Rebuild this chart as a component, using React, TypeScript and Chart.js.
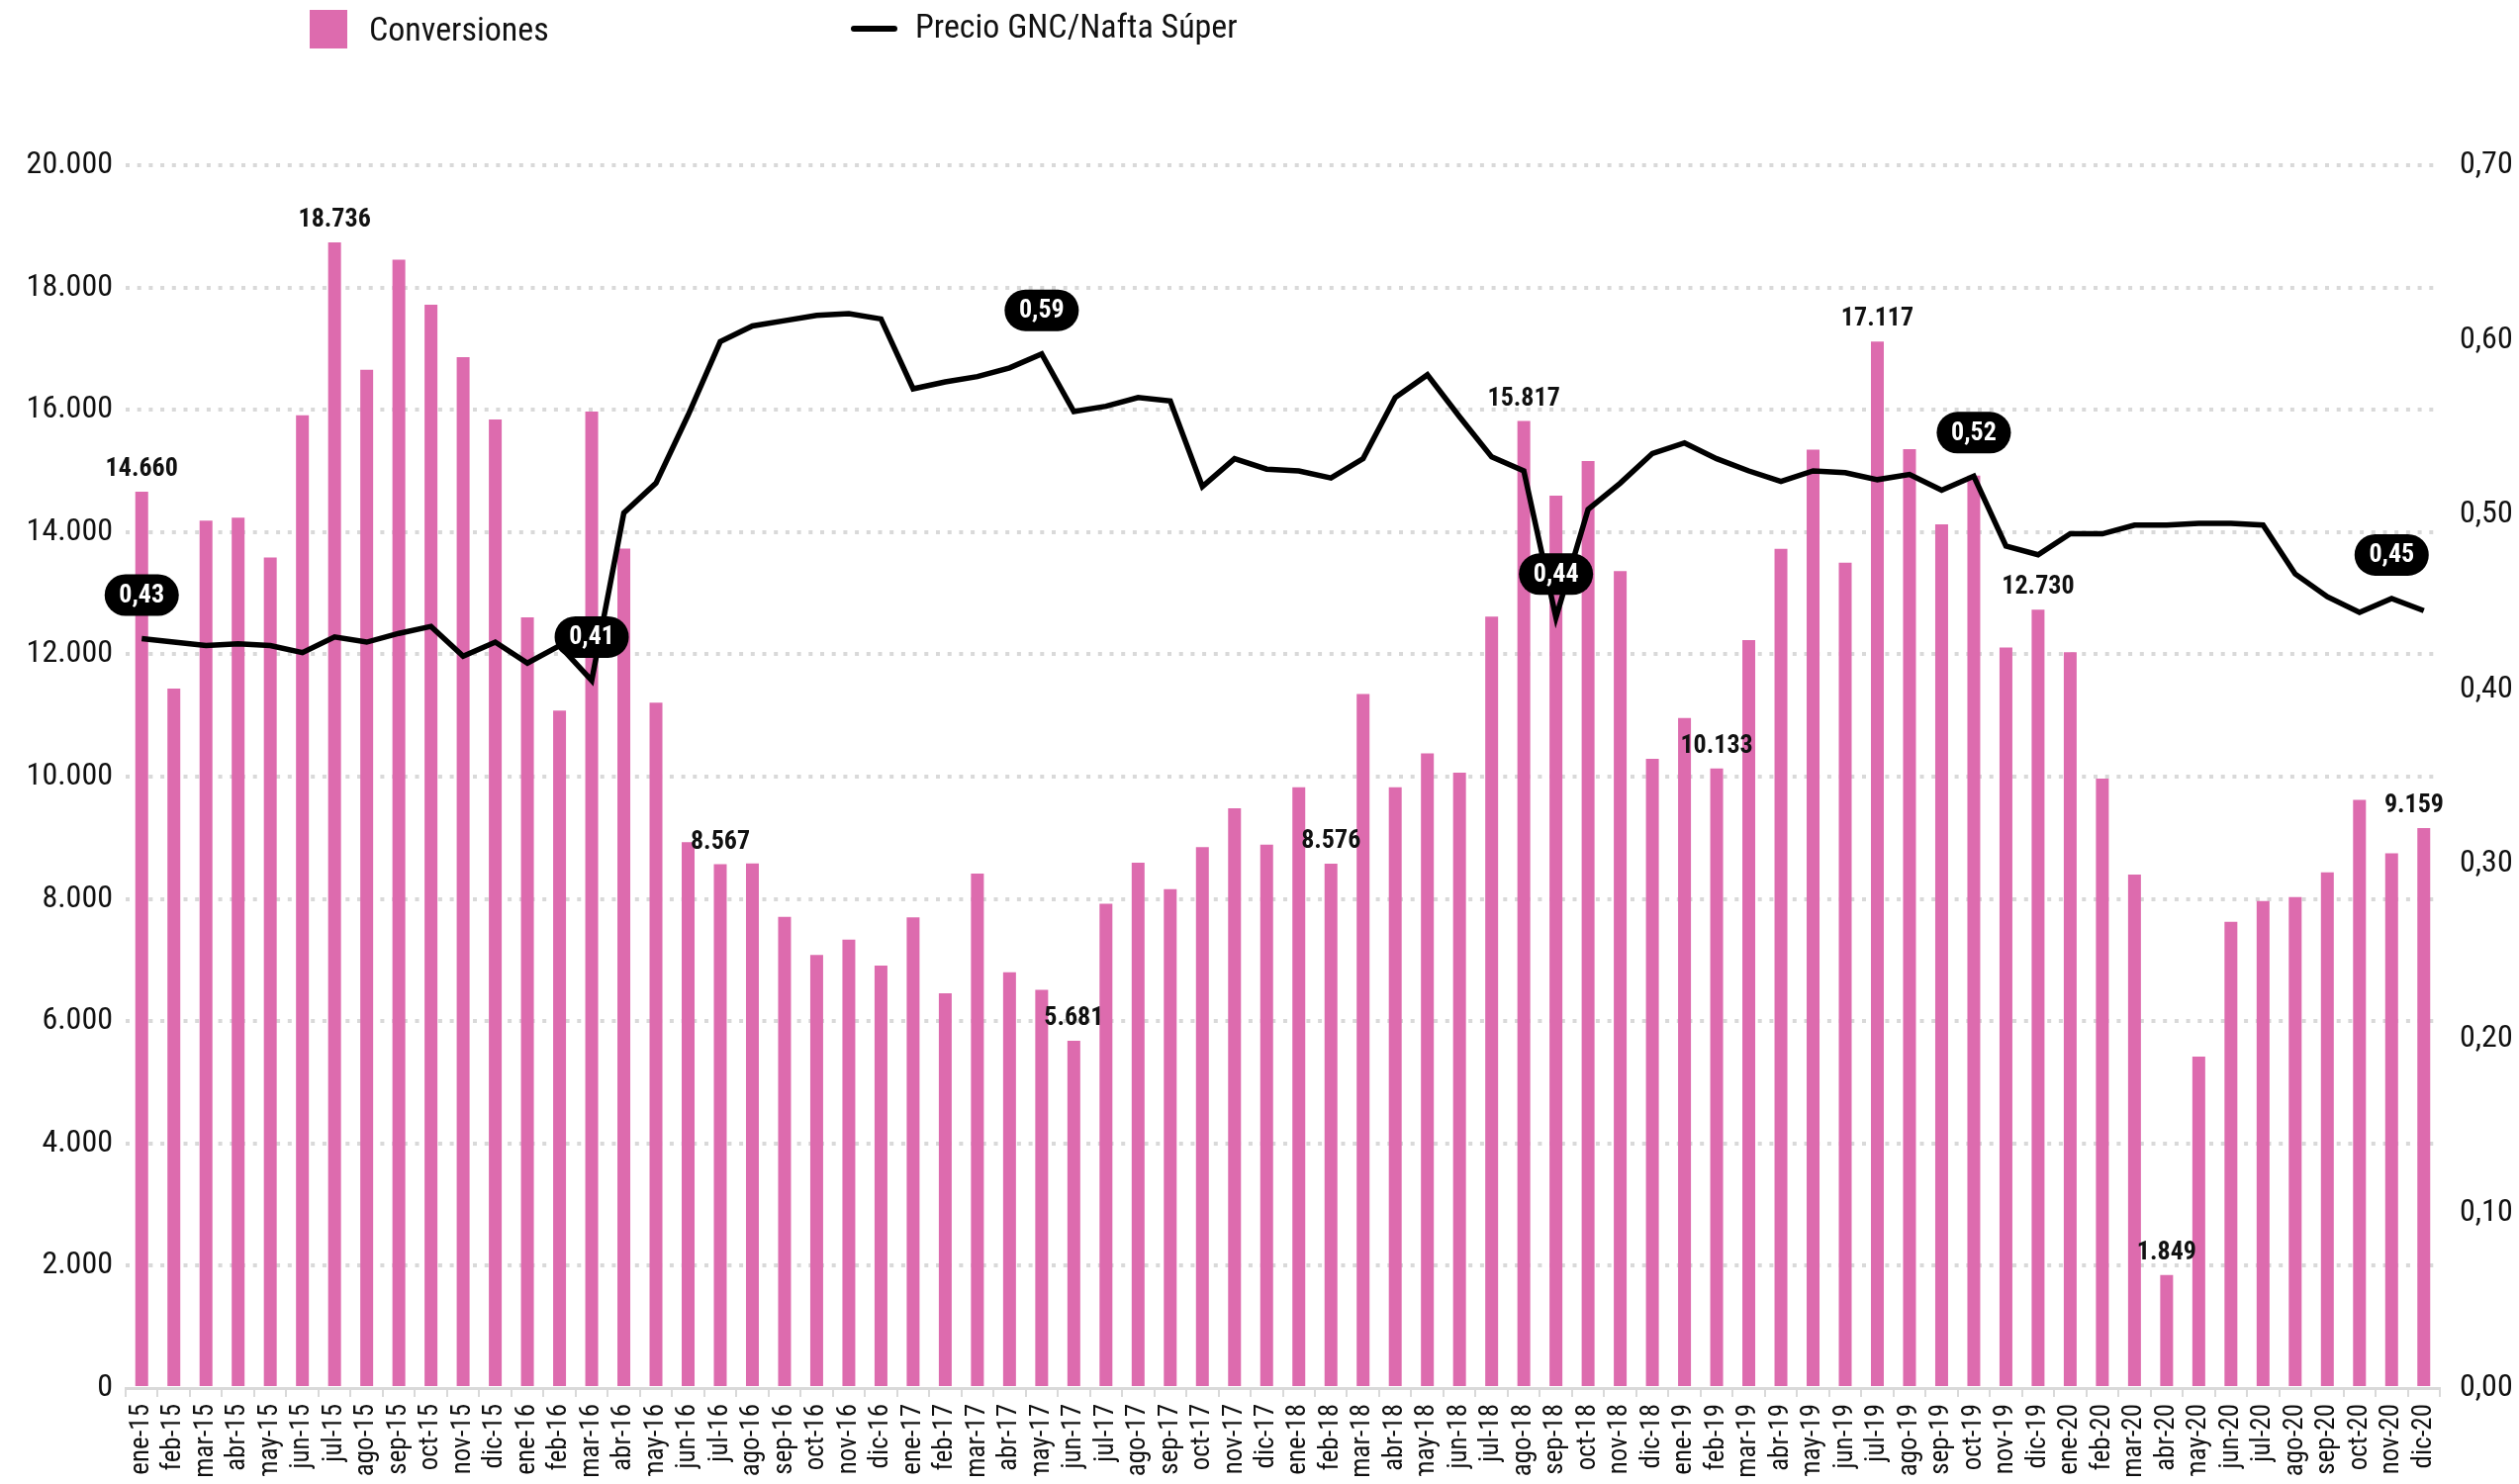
import React, { useEffect, useRef } from "react";
import { Chart, registerables } from "chart.js";

Chart.register(...registerables);

const FONT =
  "'Roboto Condensed', 'Liberation Sans Narrow', 'Arial Narrow', 'DejaVu Sans Condensed', Roboto, sans-serif";

const categories = [
  "ene-15", "feb-15", "mar-15", "abr-15", "may-15", "jun-15", "jul-15", "ago-15", "sep-15", "oct-15", "nov-15", "dic-15",
  "ene-16", "feb-16", "mar-16", "abr-16", "may-16", "jun-16", "jul-16", "ago-16", "sep-16", "oct-16", "nov-16", "dic-16",
  "ene-17", "feb-17", "mar-17", "abr-17", "may-17", "jun-17", "jul-17", "ago-17", "sep-17", "oct-17", "nov-17", "dic-17",
  "ene-18", "feb-18", "mar-18", "abr-18", "may-18", "jun-18", "jul-18", "ago-18", "sep-18", "oct-18", "nov-18", "dic-18",
  "ene-19", "feb-19", "mar-19", "abr-19", "may-19", "jun-19", "jul-19", "ago-19", "sep-19", "oct-19", "nov-19", "dic-19",
  "ene-20", "feb-20", "mar-20", "abr-20", "may-20", "jun-20", "jul-20", "ago-20", "sep-20", "oct-20", "nov-20", "dic-20",
];

const conversiones = [
  14660, 11441, 14185, 14237, 13586, 15911, 18736, 16656, 18455, 17719, 16860, 15840,
  12604, 11080, 15970, 13730, 11210, 8926, 8567, 8579, 7705, 7084, 7336, 6911,
  7698, 6456, 8414, 6802, 6514, 5681, 7922, 8593, 8160, 8846, 9482, 8889,
  9828, 8576, 11352, 9828, 10380, 10064, 12619, 15817, 14597, 15161, 13363, 10292,
  10957, 10133, 12235, 13724, 15349, 13499, 17117, 15357, 14128, 14923, 12112, 12730,
  12033, 9967, 8399, 1849, 5422, 7626, 7966, 8030, 8435, 9619, 8745, 9159,
];

const precio = [
  0.429, 0.427, 0.425, 0.426, 0.425, 0.421, 0.43, 0.427, 0.432, 0.436, 0.419, 0.427,
  0.415, 0.425, 0.405, 0.501, 0.518, 0.557, 0.599, 0.608, 0.611, 0.614, 0.615, 0.612,
  0.572, 0.576, 0.579, 0.584, 0.592, 0.559, 0.562, 0.567, 0.565, 0.516, 0.532, 0.526,
  0.525, 0.521, 0.532, 0.567, 0.58, 0.556, 0.533, 0.525, 0.441, 0.503, 0.518, 0.535,
  0.541, 0.532, 0.525, 0.519, 0.525, 0.524, 0.52, 0.523, 0.514, 0.522, 0.482, 0.477,
  0.489, 0.489, 0.494, 0.494, 0.495, 0.495, 0.494, 0.466, 0.453, 0.444, 0.452, 0.445,
];

// indices of annotated points
const barLabelIdx = [0, 6, 18, 29, 37, 43, 49, 54, 59, 63, 71];
const lineLabelIdx = [0, 14, 28, 44, 57, 70];

const legendLabels = ["Conversiones", "Precio GNC/Nafta Súper"];

const PINK = "#DD6BAE";
const GRID = "#D9D9D9";
const TEXT = "#111111";

function fmtThousands(v: number): string {
  const s = Math.round(v).toString();
  return s.replace(/\B(?=(\d{3})+(?!\d))/g, ".");
}
function fmtDec(v: number, d: number): string {
  return v.toFixed(d).replace(".", ",");
}

function pill(ctx: CanvasRenderingContext2D, x: number, y: number, w: number, h: number) {
  const r = h / 2;
  ctx.beginPath();
  ctx.moveTo(x + r, y);
  ctx.lineTo(x + w - r, y);
  ctx.arc(x + w - r, y + r, r, -Math.PI / 2, Math.PI / 2);
  ctx.lineTo(x + r, y + h);
  ctx.arc(x + r, y + r, r, Math.PI / 2, (3 * Math.PI) / 2);
  ctx.closePath();
}

const labelsPlugin = {
  id: "customLabels",
  afterDatasetsDraw(chart: any) {
    const ctx: CanvasRenderingContext2D = chart.ctx;
    const area = chart.chartArea;
    const barMeta = chart.getDatasetMeta(0);
    const lineMeta = chart.getDatasetMeta(1);
    ctx.save();
    ctx.font = `bold 26px ${FONT}`;
    ctx.fillStyle = TEXT;
    ctx.textAlign = "center";
    ctx.textBaseline = "alphabetic";
    barLabelIdx.forEach((i) => {
      const el = barMeta.data[i];
      const txt = fmtThousands(conversiones[i]);
      const w = ctx.measureText(txt).width;
      const x = Math.min(el.x, area.right + 4 - w / 2);
      ctx.fillText(txt, x, el.y - 16);
    });
    lineLabelIdx.forEach((i) => {
      const pt = lineMeta.data[i];
      const txt = fmtDec(precio[i], 2);
      const w = 75;
      const h = 42;
      const cx = pt.x;
      const cy = pt.y - 44;
      ctx.fillStyle = "#000";
      pill(ctx, cx - w / 2, cy - h / 2, w, h);
      ctx.fill();
      ctx.fillStyle = "#fff";
      ctx.textBaseline = "middle";
      ctx.fillText(txt, cx, cy + 1);
    });
    ctx.restore();
  },
};

const legendPlugin = {
  id: "customLegend",
  afterDraw(chart: any) {
    const ctx: CanvasRenderingContext2D = chart.ctx;
    ctx.save();
    ctx.fillStyle = PINK;
    ctx.fillRect(305, 2, 38, 39);
    ctx.font = `34px ${FONT}`;
    ctx.fillStyle = TEXT;
    ctx.textAlign = "left";
    ctx.textBaseline = "middle";
    ctx.fillText(legendLabels[0], 365, 24);
    ctx.strokeStyle = "#000";
    ctx.lineWidth = 6;
    ctx.lineCap = "round";
    ctx.beginPath();
    ctx.moveTo(855, 21);
    ctx.lineTo(896, 21);
    ctx.stroke();
    ctx.fillText(legendLabels[1], 917, 21);
    ctx.restore();
  },
};

export default function App() {
  const ref = useRef<HTMLCanvasElement>(null);
  useEffect(() => {
    if (!ref.current) return;
    const chart = new Chart(ref.current, {
      type: "bar",
      data: {
        labels: categories,
        datasets: [
          {
            type: "bar",
            label: legendLabels[0],
            data: conversiones,
            backgroundColor: PINK,
            barPercentage: 0.4,
            categoryPercentage: 1,
            yAxisID: "y",
            order: 1,
          },
          {
            type: "line",
            label: legendLabels[1],
            data: precio,
            borderColor: "#000",
            borderWidth: 5.5,
            pointRadius: 0,
            tension: 0,
            yAxisID: "y1",
            order: 0,
          },
        ],
      },
      options: {
        animation: false,
        responsive: true,
        maintainAspectRatio: false,
        layout: { padding: { top: 159, left: 0, right: 0, bottom: 0 } },
        plugins: {
          legend: { display: false },
          tooltip: { enabled: false },
        },
        scales: {
          x: {
            offset: true,
            grid: {
              offset: true,
              drawOnChartArea: false,
              drawTicks: true,
              tickLength: 9,
              color: GRID,
              lineWidth: 2,
            },
            border: { display: true, color: GRID, width: 3 },
            ticks: {
              autoSkip: false,
              minRotation: 90,
              maxRotation: 90,
              padding: 7,
              color: TEXT,
              font: { family: FONT, size: 27 },
            },
            afterFit: (s: any) => {
              s.height = 89;
            },
          },
          y: {
            position: "left",
            min: 0,
            max: 20000,
            ticks: {
              stepSize: 2000,
              padding: 13,
              color: TEXT,
              font: { family: FONT, size: 32 },
              callback: (v: any) => fmtThousands(Number(v)),
            },
            grid: {
              drawTicks: false,
              lineWidth: 4,
              color: (c: any) => (c.tick && c.tick.value === 0 ? "rgba(0,0,0,0)" : GRID),
              borderDash: [4, 7.7],
            } as any,
            border: { display: false, dash: [4, 7.7] },
            afterFit: (s: any) => {
              s.width = 119;
            },
          },
          y1: {
            position: "right",
            min: 0,
            max: 0.7,
            ticks: {
              stepSize: 0.1,
              padding: 20,
              color: TEXT,
              font: { family: FONT, size: 32 },
              callback: (v: any) => fmtDec(Number(v), 2),
            },
            grid: { display: false, drawTicks: false },
            border: { display: false },
            afterFit: (s: any) => {
              s.width = 72;
            },
          },
        },
      } as any,
      plugins: [labelsPlugin, legendPlugin],
    });
    return () => chart.destroy();
  }, []);
  return (
    <div style={{ width: 2530, height: 1484, position: "relative" }}>
      <canvas ref={ref} />
    </div>
  );
}
